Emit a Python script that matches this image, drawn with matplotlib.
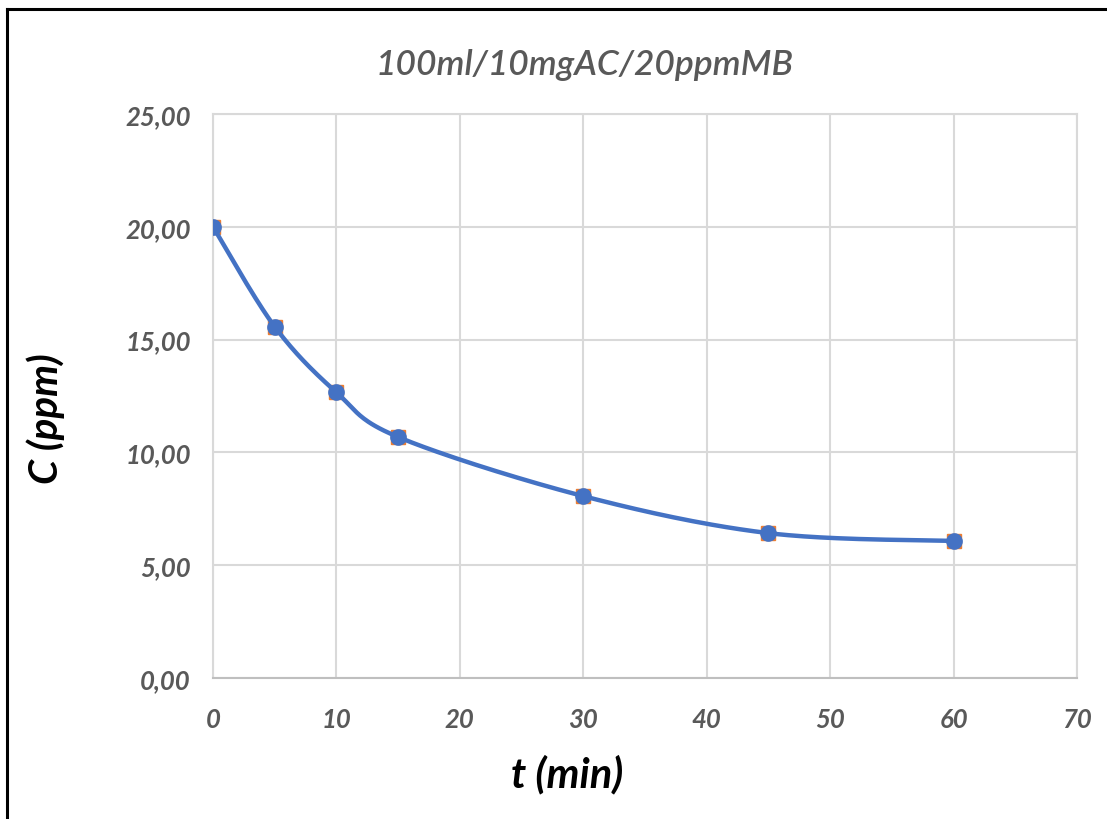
import numpy as np
import matplotlib.pyplot as plt
from matplotlib.lines import Line2D

# data
t = [0, 5, 10, 15, 30, 45, 60]
c = [20.00, 15.57, 12.66, 10.68, 8.06, 6.42, 6.07]

xticks = [0, 10, 20, 30, 40, 50, 60, 70]
yticks = [0, 5, 10, 15, 20, 25]

blue = '#4472C4'
orange = '#ED7D31'
grey = '#595959'


def smooth(x, y, n=40):
    # excel-like smoothed line: bezier segments with catmull-rom control points
    p = np.column_stack([x, y]).astype(float)
    p = np.vstack([p[0], p, p[-1]])
    out = []
    s = np.linspace(0, 1, n)[:, None]
    for i in range(1, len(p) - 2):
        p0, p1, p2, p3 = p[i - 1], p[i], p[i + 1], p[i + 2]
        c1 = p1 + (p2 - p0) / 6
        c2 = p2 - (p3 - p1) / 6
        seg = ((1 - s) ** 3) * p1 + 3 * ((1 - s) ** 2) * s * c1 + 3 * (1 - s) * s ** 2 * c2 + s ** 3 * p2
        out.append(seg)
    out = np.vstack(out)
    return out[:, 0], out[:, 1]


plt.rcParams['font.family'] = ['Lato', 'DejaVu Sans']

fig = plt.figure(figsize=(11.07, 8.2), dpi=100)
ax = fig.add_axes([0.1924, 0.172, 0.7805, 0.6878])

xs, ys = smooth(t, c)
ax.plot(t, c, 's', color=orange, ms=9.5, zorder=3)
ax.plot(xs, ys, '-', color=blue, lw=3.2, zorder=4)
ax.plot(t, c, 'o', color=blue, ms=11, zorder=5)

ax.set_xlim(0, 70)
ax.set_ylim(0, 25)
ax.set_xticks(xticks)
ax.set_yticks(yticks)
ax.set_xticklabels([str(v) for v in xticks])
ax.set_yticklabels([f'{v:.2f}'.replace('.', ',') for v in yticks])
for lab in ax.get_xticklabels() + ax.get_yticklabels():
    lab.set_fontsize(18.5)
    lab.set_fontweight('bold')
    lab.set_fontstyle('italic')
    lab.set_color(grey)
ax.tick_params(length=0)
ax.tick_params(axis='y', pad=16)
ax.tick_params(axis='x', pad=21)
ax.grid(True, color='#D9D9D9', lw=1.5)
ax.set_axisbelow(True)
for sp in ax.spines.values():
    sp.set_color('#D9D9D9')
    sp.set_linewidth(1.5)
ax.spines['bottom'].set_color('#BFBFBF')

fig.text(0.528, 0.921, '100ml/10mgAC/20ppmMB', fontsize=25.5, fontweight='semibold',
         style='italic', color=grey, ha='center', va='center')
fig.text(0.512, 0.055, 't (min)', fontsize=30, fontweight='bold', style='italic',
         ha='center', va='center')
fig.text(0.041, 0.49, 'C (ppm)', fontsize=29, fontweight='bold', style='italic',
         ha='center', va='center', rotation=90)

# frame around the chart (top and left visible)
fig.add_artist(Line2D([7 / 1107, 7 / 1107], [0, 1 - 10 / 820], color='k', lw=2.2,
                      transform=fig.transFigure))
fig.add_artist(Line2D([7 / 1107, 1], [1 - 10 / 820, 1 - 10 / 820], color='k', lw=2.2,
                      transform=fig.transFigure))

fig.savefig('out.png', dpi=100)
